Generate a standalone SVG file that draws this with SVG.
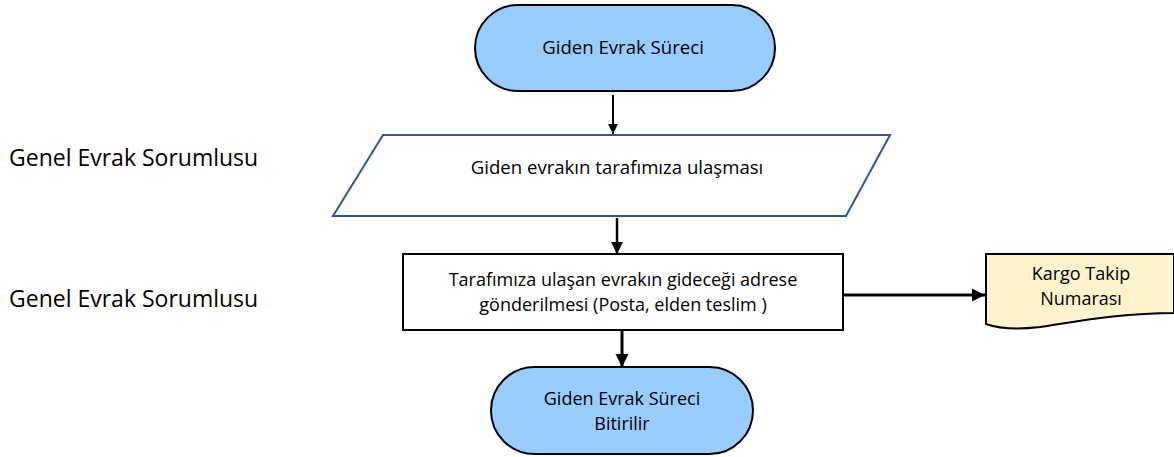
<svg xmlns="http://www.w3.org/2000/svg" width="1174" height="457" viewBox="0 0 1174 457">
<defs>
<style>
text{font-family:"Open Sans","Liberation Sans",sans-serif;fill:#000;text-anchor:middle;font-size:18.6px}
.two{font-size:18px}
.side{text-anchor:start;font-size:23px}
.term{fill:#99CCFF;stroke:#000;stroke-width:2}
.conn{stroke:#000;fill:none}
</style>
<marker id="ah" viewBox="0 0 10 10" refX="10" refY="5" markerWidth="5" markerHeight="5" markerUnits="strokeWidth" orient="auto">
<path d="M0,0 L10,5 L0,10 z" fill="#000"/>
</marker>
<marker id="ah2" viewBox="0 0 10 10" refX="10" refY="5" markerWidth="4.5" markerHeight="4.5" markerUnits="strokeWidth" orient="auto">
<path d="M0,0 L10,5 L0,10 z" fill="#000"/>
</marker>
</defs>
<rect width="1174" height="457" fill="#fff"/>
<text class="side" x="9" y="166">Genel Evrak Sorumlusu</text>
<text class="side" x="9" y="307">Genel Evrak Sorumlusu</text>
<g id="start">
<rect class="term" x="475" y="5" width="300" height="86" rx="43" ry="43"/>
<text x="623" y="54">Giden Evrak Süreci</text>
</g>
<g id="receive">
<polygon points="383,135 890,135 846,216 333,216" fill="#fff" stroke="#2F5597" stroke-width="2"/>
<text x="617" y="174">Giden evrakın tarafımıza ulaşması</text>
</g>
<g id="send">
<rect x="403" y="254" width="440" height="76" fill="#fff" stroke="#000" stroke-width="2"/>
<text class="two" x="623" y="286">Tarafımıza ulaşan evrakın gideceği adrese</text>
<text class="two" x="623" y="311">gönderilmesi (Posta, elden teslim )</text>
</g>
<g id="end">
<rect class="term" x="491" y="367" width="262" height="87" rx="43.5" ry="43.5"/>
<text class="two" x="622" y="405">Giden Evrak Süreci</text>
<text class="two" x="622" y="430">Bitirilir</text>
</g>
<g id="cargo">
<path d="M986,254 L1174,254 L1174,313 C1120,313 1075,322 1040,327 C1015,330 1000,329 986,324 Z" fill="#FFF2CC" stroke="#000" stroke-width="2"/>
<text class="two" x="1081" y="280">Kargo Takip</text>
<text class="two" x="1081" y="305">Numarası</text>
</g>
<g id="connectors">
<line class="conn" x1="613" y1="95" x2="613" y2="134" stroke-width="2" marker-end="url(#ah)"/>
<line class="conn" x1="617" y1="218" x2="617" y2="254" stroke-width="2.5" marker-end="url(#ah)"/>
<line class="conn" x1="622" y1="331" x2="622" y2="367" stroke-width="3" marker-end="url(#ah2)"/>
<line class="conn" x1="844" y1="295" x2="985" y2="295" stroke-width="3" marker-end="url(#ah2)"/>
</g>
</svg>
